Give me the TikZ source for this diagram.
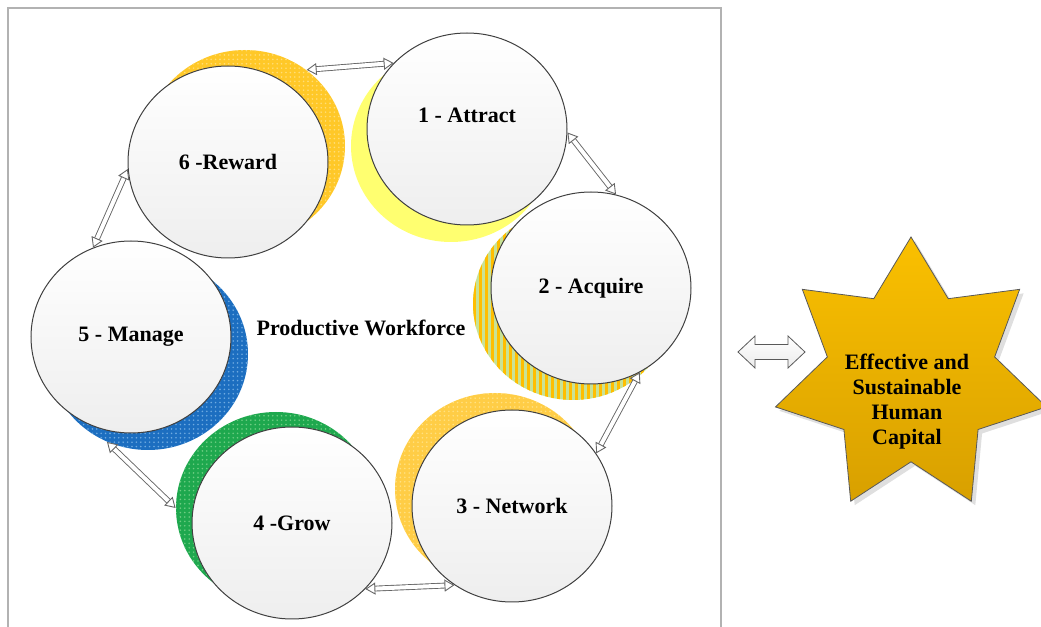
\documentclass[tikz,border=0pt]{standalone}
\usepackage{fontspec}
\setmainfont{Liberation Serif}
\usetikzlibrary{arrows.meta,shapes.geometric,patterns.meta,shadows}
\definecolor{ringline}{RGB}{64,64,64}
\definecolor{ringbot}{RGB}{238,238,238}
\definecolor{haloyellow}{RGB}{255,255,112}
\definecolor{halogold}{RGB}{255,200,40}
\definecolor{halogolddot}{RGB}{255,222,120}
\definecolor{haloblue}{RGB}{28,110,192}
\definecolor{halobluedot}{RGB}{110,170,225}
\definecolor{halogreen}{RGB}{30,168,78}
\definecolor{halogreendot}{RGB}{110,205,130}
\definecolor{halopeach}{RGB}{255,205,70}
\definecolor{halopeachdot}{RGB}{255,225,130}
\definecolor{stripeorange}{RGB}{255,190,0}
\definecolor{stripegreen}{RGB}{200,226,150}
\definecolor{startop}{RGB}{250,192,0}
\definecolor{starbot}{RGB}{216,160,0}

\begin{document}
\begin{tikzpicture}[x=0.5pt,y=0.5pt,
	ring/.style={ellipse,draw=ringline,line width=0.5pt,minimum width=100pt,minimum height=96pt,inner sep=0pt,
		top color=white,bottom color=ringbot,font=\fontsize{11}{13}\selectfont\bfseries},
	halo/.style={ellipse,minimum width=100pt,minimum height=96pt,inner sep=0pt,fill=#1},
	dotted halo/.style={postaction={pattern={Dots[radius=0.45pt,distance=2.2pt]},pattern color=#1}},
	ringlink/.style={draw=gray!80!black,line width=0.45pt,double=white,double distance=2pt,
		{Triangle[open,fill=white,length=5pt,width=6pt,line width=0.45pt]}-{Triangle[open,fill=white,length=5pt,width=6pt,line width=0.45pt]}},
	goalstar/.style={star,star points=7,star point ratio=1.62,minimum size=139pt,inner sep=0pt,
		draw=gray!70!black,line width=0.4pt,top color=startop,bottom color=starbot,
		drop shadow={opacity=0.25,shadow xshift=2pt,shadow yshift=-2pt}},
	goaltext/.style={align=center,font=\fontsize{11}{12.5}\selectfont\bfseries}]
		\clip (0,0) rectangle (1041,627);
		\draw[gray!60,line width=1pt] (8,619) rectangle (721,-20);
		\node[halo=haloyellow] (s1) at (451,481) {};
		\node[halo=stripegreen,postaction={pattern={Lines[angle=90,distance=3pt,line width=1.5pt]},pattern color=stripeorange}] (s2) at (573,323) {};
		\node[halo=halopeach,dotted halo=halopeachdot] (s3) at (495,138) {};
		\node[halo=halogreen,dotted halo=halogreendot] (s4) at (276,119) {};
		\node[halo=haloblue,dotted halo=halobluedot] (s5) at (148,273) {};
		\node[halo=halogold,dotted halo=halogolddot] (s6) at (245,481) {};
		\node[ring,text depth=14pt] (c1) at (467,498) {1 - Attract};
		\node[ring] (c2) at (591,339) {2 - Acquire};
		\node[ring] (c3) at (512,121) {3 - Network};
		\node[ring] (c4) at (292,104) {4 -Grow};
		\node[ring] (c5) at (131,290) {5 - Manage};
		\node[ring] (c6) at (228,465) {6 -Reward};
		\node[font=\fontsize{11}{13}\selectfont\bfseries] (pw) at (361,299) {Productive Workforce};
		\draw[ringlink] (c1.138) -- (s6.51);
		\draw[ringlink] (c1.-2) -- (c2.75);
		\draw[ringlink] (c2.-60) -- (c3.32);
		\draw[ringlink] (c3.234) -- (c4.-42);
		\draw[ringlink] (s4.180) -- (s5.245);
		\draw[ringlink] (c5.113) -- (c6.184);
		\node[goalstar] (goal) at (911,251) {};
		\node[goaltext] (goaltext) at (907,225) {Effective and\\Sustainable\\Human\\Capital};
		\coordinate (link) at (771.5,275);
		\draw[draw=gray!70!black,line width=0.4pt,top color=white,bottom color=gray!15,shift={(link)}]
			(-33.5,0) -- (-16.5,16) -- (-16.5,7.5) -- (16.5,7.5) -- (16.5,16) -- (33.5,0)
			-- (16.5,-16) -- (16.5,-7.5) -- (-16.5,-7.5) -- (-16.5,-16) -- cycle;
\end{tikzpicture}
\end{document}
